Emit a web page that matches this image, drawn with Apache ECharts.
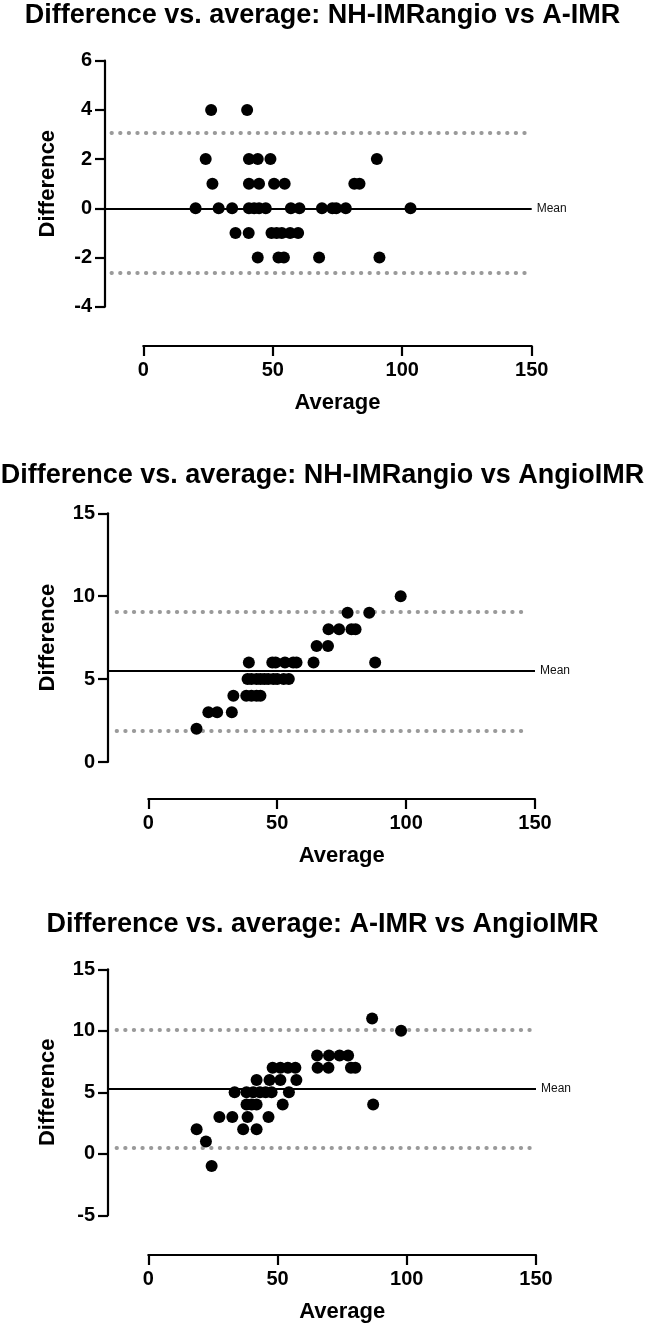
<!DOCTYPE html>
<html><head><meta charset="utf-8">
<script src="https://cdn.jsdelivr.net/npm/echarts@6/dist/echarts.min.js"></script>
<style>html,body{margin:0;padding:0;background:#fff}#c{width:645px;height:1327px}</style>
</head><body><div id="c"></div>
<script>
// ---------- DATA ----------
const titles = [
  'Difference vs. average: NH-IMRangio vs A-IMR',
  'Difference vs. average: NH-IMRangio vs AngioIMR',
  'Difference vs. average: A-IMR vs AngioIMR'
];
const xName = 'Average';
const yName = 'Difference';
const meanLabel = 'Mean';
const xTicks = [0, 150, 50];          // min, max, interval

// Panel 1: NH-IMRangio vs A-IMR
const p1Avg  = [26.2, 40.1,
                24.1, 40.8, 44.2, 49.1, 90.2,
                26.7, 40.8, 44.7, 50.5, 54.6, 81.5, 83.5,
                20.2, 29.1, 34.3, 40.8, 42.8, 44.7, 47.3, 57.0, 60.3, 69.0, 73.0, 74.5, 78.2, 103.2,
                35.6, 40.7, 49.5, 51.5, 53.5, 56.7, 59.8,
                44.2, 52.2, 54.3, 67.9, 91.2];
const p1Diff = [4, 4,
                2, 2, 2, 2, 2,
                1, 1, 1, 1, 1, 1, 1,
                0, 0, 0, 0, 0, 0, 0, 0, 0, 0, 0, 0, 0, 0,
                -1, -1, -1, -1, -1, -1, -1,
                -2, -2, -2, -2, -2];
const p1Bias = [0.0, 3.09, -2.62];    // mean, upper LoA, lower LoA
const p1YTicks = [-4, 6, 2];

// Panel 2: NH-IMRangio vs AngioIMR
const p2Avg  = [97.9,
                77.3, 85.7,
                69.9, 74.0, 78.8, 80.4,
                65.3, 69.7,
                39.0, 48.1, 49.4, 53.0, 56.2, 57.5, 64.1, 88.0,
                38.5, 40.0, 42.0, 43.5, 45.0, 46.5, 48.5, 50.0, 52.5, 54.5,
                33.0, 38.0, 40.0, 42.0, 43.5,
                23.3, 26.7, 32.4,
                18.7];
const p2Diff = [10,
                9, 9,
                8, 8, 8, 8,
                7, 7,
                6, 6, 6, 6, 6, 6, 6, 6,
                5, 5, 5, 5, 5, 5, 5, 5, 5, 5,
                4, 4, 4, 4, 4,
                3, 3, 3,
                2];
const p2Bias = [5.5, 9.05, 1.9];
const p2YTicks = [0, 15, 5];

// Panel 3: A-IMR vs AngioIMR
const p3Avg  = [86.6,
                97.8,
                65.3, 69.9, 74.0, 77.3,
                48.1, 51.1, 54.0, 56.9, 65.5, 69.7, 78.4, 80.1,
                41.9, 46.9, 51.1, 57.3,
                33.4, 38.0, 40.6, 43.2, 45.4, 47.7, 54.4,
                38.0, 40.0, 41.9, 52.0, 87.0,
                27.5, 32.5, 38.4, 46.5,
                18.7, 36.7, 41.9,
                22.3,
                24.5];
const p3Diff = [11,
                10,
                8, 8, 8, 8,
                7, 7, 7, 7, 7, 7, 7, 7,
                6, 6, 6, 6,
                5, 5, 5, 5, 5, 5, 5,
                4, 4, 4, 4, 4,
                3, 3, 3, 3,
                2, 2, 2,
                1,
                -1];
const p3Bias = [5.28, 10.1, 0.48];
const p3YTicks = [-5, 15, 5];

// ---------- LAYOUT (pixels) ----------
const layout = [
  {axisX:105, x0:143.3, x150:531.7, yTop:60.7,  yBot:306.7,  xAxisY:346,  titleTop:2,   yGap:46},
  {axisX:108, x0:148.3, x150:535.0, yTop:513.3, yBot:762.0,  xAxisY:799,  titleTop:462, yGap:49},
  {axisX:108, x0:148.3, x150:536.0, yTop:969.3, yBot:1215.3, xAxisY:1255, titleTop:911, yGap:49}
];
const limitSpan = [-12.3, 147.7];   // extent of dotted limit lines along x
const FONT = '"Liberation Sans", Arial, Helvetica, sans-serif';

const panels = [
  {avg:p1Avg, diff:p1Diff, bias:p1Bias, yt:p1YTicks},
  {avg:p2Avg, diff:p2Diff, bias:p2Bias, yt:p2YTicks},
  {avg:p3Avg, diff:p3Diff, bias:p3Bias, yt:p3YTicks}
];

const grid = [], xAxis = [], yAxis = [], series = [], title = [];

panels.forEach((p, i) => {
  const L = layout[i];
  const pxPerUnit = (L.x150 - L.x0) / (xTicks[1] - xTicks[0]);
  const xMin = -(L.x0 - L.axisX) / pxPerUnit;
  const gD = grid.length;
  grid.push({left: L.axisX, top: L.yTop, width: L.x150 - L.axisX, height: L.yBot - L.yTop});
  grid.push({left: L.x0, top: L.xAxisY - 1, width: L.x150 - L.x0, height: 1});

  title.push({
    text: titles[i], left: 'center', top: L.titleTop, padding: 0,
    textStyle: {fontFamily: FONT, fontSize: 27, fontWeight: 'bold', color: '#000'}
  });

  xAxis.push({gridIndex: gD, type: 'value', min: xMin, max: xTicks[1], show: false});
  xAxis.push({
    gridIndex: gD + 1, type: 'value', position: 'bottom',
    min: xTicks[0], max: xTicks[1], interval: xTicks[2],
    axisLine: {show: true, onZero: false, lineStyle: {color: '#000', width: 2.2}},
    axisTick: {show: true, length: 10, lineStyle: {color: '#000', width: 2.2}},
    axisLabel: {fontFamily: FONT, fontSize: 20, fontWeight: 'bold', color: '#000', margin: 14},
    splitLine: {show: false},
    name: xName, nameLocation: 'middle', nameGap: 46,
    nameTextStyle: {fontFamily: FONT, fontSize: 22, fontWeight: 'bold', color: '#000'}
  });

  yAxis.push({
    gridIndex: gD, type: 'value', min: p.yt[0], max: p.yt[1], interval: p.yt[2],
    axisLine: {show: true, onZero: false, lineStyle: {color: '#000', width: 2.2}},
    axisTick: {show: true, length: 10, lineStyle: {color: '#000', width: 2.2}},
    axisLabel: {fontFamily: FONT, fontSize: 20, fontWeight: 'bold', color: '#000', margin: 13},
    splitLine: {show: false},
    name: yName, nameLocation: 'middle', nameGap: L.yGap,
    nameTextStyle: {fontFamily: FONT, fontSize: 22, fontWeight: 'bold', color: '#000'}
  });
  yAxis.push({gridIndex: gD + 1, type: 'value', min: 0, max: 1, show: false});

  const dotted = {color: '#9a9a9a', width: 3.8, type: [0.5, 8.1], cap: 'round'};
  series.push({
    type: 'scatter', xAxisIndex: gD, yAxisIndex: gD, z: 3,
    symbol: 'circle', symbolSize: 12,
    itemStyle: {color: '#000', opacity: 1},
    emphasis: {disabled: true},
    data: p.avg.map((a, k) => [a, p.diff[k]]),
    animation: false,
    markLine: {
      silent: true, symbol: ['none', 'none'], z: 1, animation: false,
      data: [
        [{coord: [xMin + 1e-6, p.bias[0]], lineStyle: {color: '#000', width: 2.2, type: 'solid'},
          label: {show: true, position: 'end', formatter: meanLabel, distance: 5,
                  fontFamily: FONT, fontSize: 12, color: '#111'}},
         {coord: [xTicks[1], p.bias[0]]}],
        [{coord: [limitSpan[0], p.bias[1]], lineStyle: dotted, label: {show: false}},
         {coord: [limitSpan[1], p.bias[1]]}],
        [{coord: [limitSpan[0], p.bias[2]], lineStyle: dotted, label: {show: false}},
         {coord: [limitSpan[1], p.bias[2]]}]
      ]
    }
  });
});

const chart = echarts.init(document.getElementById('c'), null, {renderer: 'canvas'});
chart.setOption({
  backgroundColor: '#fff',
  animation: false,
  title, grid, xAxis, yAxis, series
});
</script>
</body></html>
